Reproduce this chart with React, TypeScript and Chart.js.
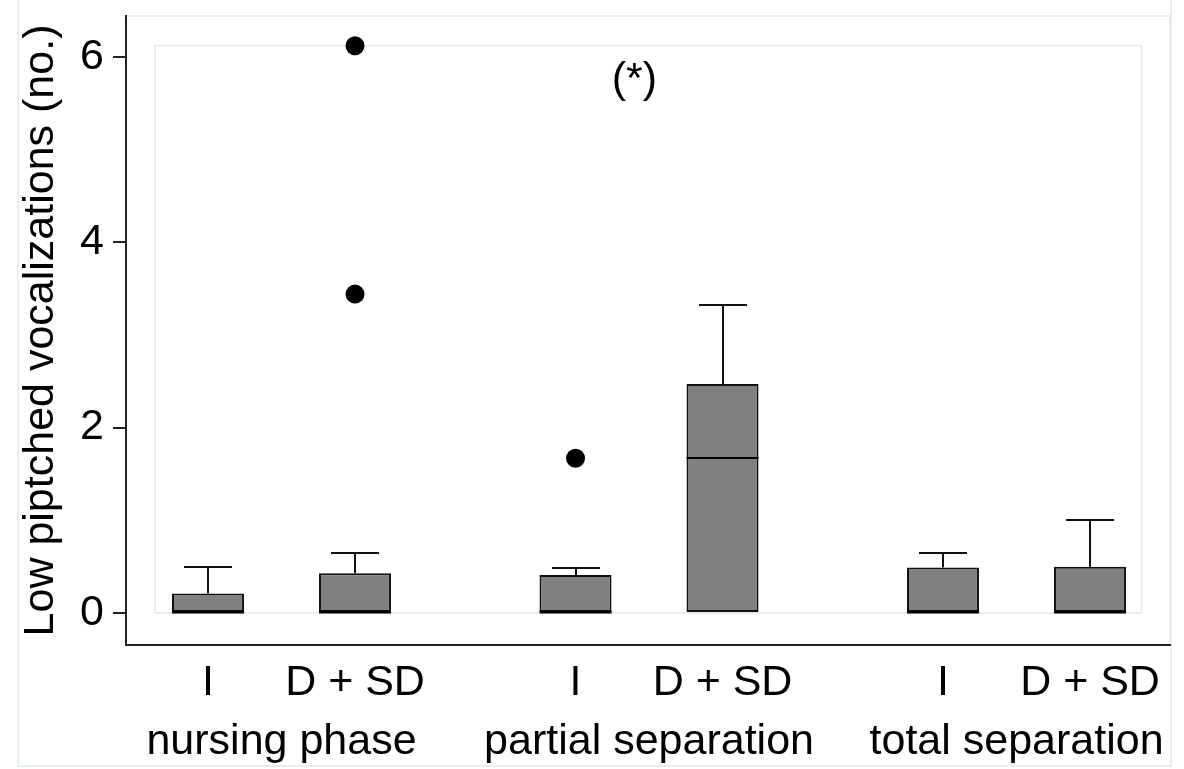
import React, { useEffect, useRef } from "react";
import { Chart, registerables } from "chart.js";
Chart.register(...registerables);

// ---- data ----
const xPositions = [0, 1, 2.5, 3.5, 5, 6];
const xLabels = ["I", "D + SD", "I", "D + SD", "I", "D + SD"];
const groupNames = ["nursing phase", "partial separation", "total separation"];
const groupMembers = [[0, 1], [2, 3], [4, 5]];
const q1 = [0, 0, 0, 0, 0, 0];
const q3 = [0.21, 0.43, 0.41, 2.47, 0.49, 0.5];
const medians = [0, 0, 0, 1.67, 0, 0];
const whiskerLo = [0, 0, 0, 0, 0, 0];
const whiskerHi = [0.5, 0.65, 0.49, 3.32, 0.65, 1.0];
const outlierX = [1, 1, 2.5];
const outlierY = [6.12, 3.44, 1.67];
const yTicks = [0, 2, 4, 6];
const yTitle = "Low piptched vocalizations (no.)";
const annotationText = "(*)";
const annotationAt = [2.9, 5.75];
const innerRegion = { xMin: -0.36, xMax: 6.35, yMin: 0, yMax: 6.12 };

const FONT = "'Liberation Sans', Arial, sans-serif";
const FSIZE = 43;
const FRAME = "#e6eef2";
const INK = "#111";

const boxPlugin = {
  id: "boxExtras",
  beforeDraw(chart: any) {
    const { ctx, chartArea, width, height } = chart;
    ctx.save();
    ctx.fillStyle = "#fff";
    ctx.fillRect(0, 0, width, height);
    ctx.strokeStyle = FRAME;
    ctx.lineWidth = 2;
    ctx.beginPath();
    ctx.moveTo(18, 0);
    ctx.lineTo(18, 766);
    ctx.lineTo(1171, 766);
    ctx.lineTo(1171, 0);
    ctx.stroke();
    ctx.beginPath();
    ctx.moveTo(chartArea.left, chartArea.top);
    ctx.lineTo(chartArea.right, chartArea.top);
    ctx.lineTo(chartArea.right, chartArea.bottom);
    ctx.stroke();
    ctx.restore();
  },
  beforeDatasetsDraw(chart: any) {
    const { ctx, scales } = chart;
    const x = scales.x, y = scales.y;
    ctx.save();
    ctx.strokeStyle = FRAME;
    ctx.lineWidth = 2;
    const l = x.getPixelForValue(innerRegion.xMin);
    const r = x.getPixelForValue(innerRegion.xMax);
    const t = y.getPixelForValue(innerRegion.yMax);
    const b = y.getPixelForValue(innerRegion.yMin);
    ctx.strokeRect(l, t, r - l, b - t);
    const meta = chart.getDatasetMeta(0);
    ctx.strokeStyle = INK;
    ctx.lineWidth = 2;
    xPositions.forEach((pos, i) => {
      const px = Math.round(x.getPixelForValue(pos));
      const bar = meta.data[i];
      const capHalf = bar ? bar.width / 3 : 24;
      const hiPx = Math.round(y.getPixelForValue(whiskerHi[i]));
      const q3Px = y.getPixelForValue(q3[i]);
      if (whiskerHi[i] > q3[i]) {
        ctx.beginPath();
        ctx.moveTo(px, q3Px);
        ctx.lineTo(px, hiPx);
        ctx.moveTo(px - capHalf, hiPx);
        ctx.lineTo(px + capHalf, hiPx);
        ctx.stroke();
      }
      if (whiskerLo[i] < q1[i]) {
        const loPx = Math.round(y.getPixelForValue(whiskerLo[i]));
        const q1Px = y.getPixelForValue(q1[i]);
        ctx.beginPath();
        ctx.moveTo(px, q1Px);
        ctx.lineTo(px, loPx);
        ctx.moveTo(px - capHalf, loPx);
        ctx.lineTo(px + capHalf, loPx);
        ctx.stroke();
      }
    });
    ctx.restore();
  },
  afterDatasetsDraw(chart: any) {
    const { ctx, scales } = chart;
    const x = scales.x, y = scales.y;
    const meta = chart.getDatasetMeta(0);
    ctx.save();
    ctx.strokeStyle = "#000";
    xPositions.forEach((pos, i) => {
      const bar = meta.data[i];
      const px = x.getPixelForValue(pos);
      const half = bar ? bar.width / 2 : 36;
      const atBase = medians[i] === q1[i];
      const my = Math.round(y.getPixelForValue(medians[i])) - (atBase ? 1 : 0);
      ctx.lineWidth = atBase ? 3 : 2;
      ctx.beginPath();
      ctx.moveTo(px - half, my);
      ctx.lineTo(px + half, my);
      ctx.stroke();
    });
    ctx.fillStyle = "#000";
    ctx.font = `${FSIZE}px ${FONT}`;
    ctx.textAlign = "center";
    ctx.textBaseline = "alphabetic";
    groupNames.forEach((name, g) => {
      const [a, b] = groupMembers[g];
      const cx = x.getPixelForValue((xPositions[a] + xPositions[b]) / 2);
      ctx.fillText(name, cx, 754);
    });
    ctx.textBaseline = "middle";
    ctx.fillText(annotationText, x.getPixelForValue(annotationAt[0]), y.getPixelForValue(annotationAt[1]));
    ctx.restore();
  },
};

export default function App() {
  const ref = useRef<HTMLCanvasElement | null>(null);
  useEffect(() => {
    document.body.style.margin = "0";
    const canvas = ref.current;
    if (!canvas) return;
    const chart = new Chart(canvas, {
      type: "bar",
      data: {
        datasets: [
          {
            type: "bar",
            data: xPositions.map((p, i) => ({ x: p, y: [q1[i], q3[i]] })) as any,
            backgroundColor: "#808080",
            borderColor: INK,
            borderWidth: 2,
            borderSkipped: false,
            barPercentage: 0.49,
            categoryPercentage: 1,
            order: 2,
          } as any,
          {
            type: "scatter",
            data: outlierX.map((p, i) => ({ x: p, y: outlierY[i] })),
            pointRadius: 9.5,
            pointHoverRadius: 9.5,
            backgroundColor: "#000",
            borderColor: "#000",
            borderWidth: 0,
            order: 1,
          } as any,
        ],
      },
      options: {
        responsive: false,
        animation: false,
        devicePixelRatio: 1,
        layout: { padding: { top: 16, right: 14, left: 0, bottom: 0 } },
        plugins: { legend: { display: false }, tooltip: { enabled: false } },
        scales: {
          x: {
            type: "linear",
            offset: false,
            min: -0.558,
            max: 6.544,
            grid: { display: false, drawTicks: false, offset: false },
            border: { display: true, color: "#222", width: 2 },
            ticks: {
              color: "#000",
              font: { family: FONT, size: FSIZE, lineHeight: 1 },
              padding: 17,
              maxRotation: 0,
              autoSkip: false,
              callback: (v: any) => {
                const i = xPositions.indexOf(Number(v));
                return i >= 0 ? xLabels[i] : "";
              },
            },
            afterBuildTicks: (s: any) => {
              s.ticks = xPositions.map((v) => ({ value: v }));
            },
            afterFit: (s: any) => {
              s.height = 124;
              s.paddingLeft = 0;
              s.paddingRight = 0;
            },
          },
          y: {
            type: "linear",
            min: -0.345,
            max: 6.44,
            grid: { display: true, drawOnChartArea: false, tickLength: 13, color: "#222", lineWidth: 2 },
            border: { display: true, color: "#222", width: 2 },
            ticks: {
              color: "#000",
              font: { family: FONT, size: FSIZE, lineHeight: 1 },
              padding: 9,
            },
            afterBuildTicks: (s: any) => {
              s.ticks = yTicks.map((v) => ({ value: v }));
            },
            afterFit: (s: any) => {
              s.width = 126;
              s.paddingTop = 0;
              s.paddingBottom = 0;
            },
            title: {
              display: true,
              text: yTitle,
              color: "#000",
              font: { family: FONT, size: FSIZE, lineHeight: 1 },
              padding: { top: 20, bottom: 0 },
            },
          },
        },
      },
      plugins: [boxPlugin],
    });
    return () => chart.destroy();
  }, []);
  return (
    <div style={{ position: "absolute", left: 0, top: 0 }}>
      <canvas ref={ref} width={1184} height={769} style={{ display: "block", width: 1184, height: 769 }} />
    </div>
  );
}
